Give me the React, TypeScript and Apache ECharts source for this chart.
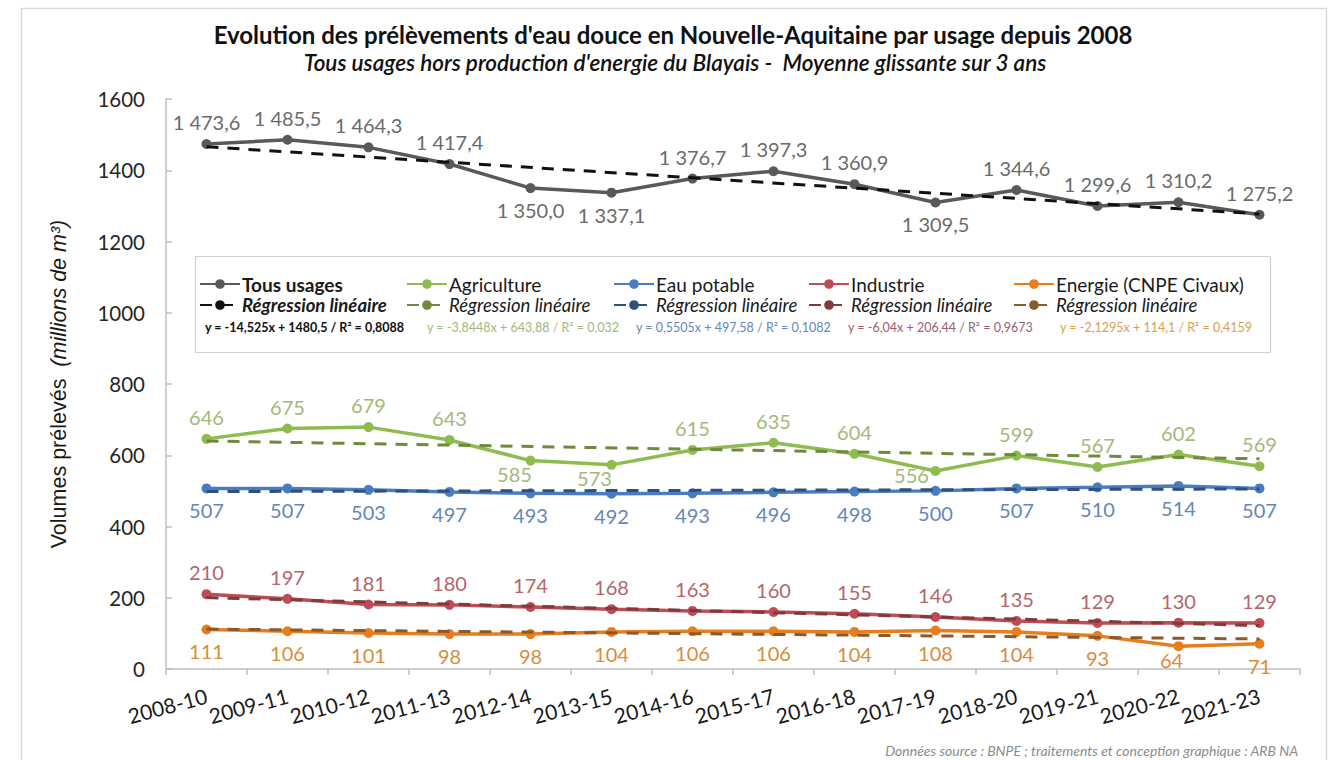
import React, { useEffect, useRef } from "react";
import * as echarts from "echarts";

const categories = [
  "2008-10", "2009-11", "2010-12", "2011-13", "2012-14", "2013-15", "2014-16",
  "2015-17", "2016-18", "2017-19", "2018-20", "2019-21", "2020-22", "2021-23",
];
const tousUsages = [1473.6, 1485.5, 1464.3, 1417.4, 1350.0, 1337.1, 1376.7, 1397.3, 1360.9, 1309.5, 1344.6, 1299.6, 1310.2, 1275.2];
const agriculture = [646, 675, 679, 643, 585, 573, 615, 635, 604, 556, 599, 567, 602, 569];
const eauPotable = [507, 507, 503, 497, 493, 492, 493, 496, 498, 500, 507, 510, 514, 507];
const industrie = [210, 197, 181, 180, 174, 168, 163, 160, 155, 146, 135, 129, 130, 129];
const energie = [111, 106, 101, 98, 98, 104, 106, 106, 104, 108, 104, 93, 64, 71];

// regression lines: value at first and last category (from the displayed equations)
const regTous = [1466.0, 1277.2];
const regAgri = [640.0, 590.0];
const regEau = [498.1, 505.3];
const regInd = [200.4, 121.9];
const regEnergie = [112.0, 84.3];

const equations = [
  "y = -14,525x + 1480,5 / R² = 0,8088",
  "y = -3,8448x + 643,88 / R² = 0,032",
  "y = 0,5505x + 497,58 / R² = 0,1082",
  "y = -6,04x + 206,44 / R² = 0,9673",
  "y = -2,1295x + 114,1 / R² = 0,4159",
];
const seriesNames = ["Tous usages", "Agriculture", "Eau potable", "Industrie", "Energie (CNPE Civaux)"];
const yTicks = [0, 200, 400, 600, 800, 1000, 1200, 1400, 1600];

const FONT = "Lato, 'Noto Sans', sans-serif";
const lineColors = ["#595959", "#8fbc4f", "#4a7dc0", "#be4b55", "#e87d1e"];
const labelColors = ["#6b6b6b", "#a3b87a", "#6387b8", "#b5646c", "#d98c3a"];
const regColors = ["#111111", "#6f8a3c", "#2f4f7f", "#7f3b3b", "#8a5a2b"];
const eqColors = ["#111111", "#a3b87a", "#6387b8", "#9a6070", "#d9a050"];

const legendCols = [199, 406, 613, 808, 1013];
const eqCols = [205, 427, 636, 848, 1060];

const fmtFr = (v: number, dec: number) => {
  const s = v.toFixed(dec);
  const [ip, dp] = s.split(".");
  const withSp = ip.replace(/\B(?=(\d{3})+(?!\d))/g, " ");
  return dp ? withSp + "," + dp : withSp;
};

const tousBelow = [4, 5, 9];
const agriShift: Record<number, number[]> = { 4: [-16, -9], 5: [-17, -9], 9: [-24, -18] };
const energieShift: Record<number, number[]> = { 12: [-7, -8] };

function regData(r: number[]) {
  return categories.map((_, i) => (i === 0 ? r[0] : i === categories.length - 1 ? r[1] : "-"));
}

export default function App() {
  const ref = useRef<HTMLDivElement>(null);
  useEffect(() => {
    if (!ref.current) return;
    const chart = echarts.init(ref.current, undefined, { renderer: "svg" });

    const baseLabel = (idx: number, pos: string) => ({
      show: true,
      position: pos,
      distance: 7,
      fontFamily: FONT,
      fontSize: 20,
      color: labelColors[idx],
      formatter: (p: any) => fmtFr(p.value, idx === 0 ? 1 : 0),
    });

    const mkSeries = (idx: number, values: number[], pos: string, custom: (v: number, i: number) => any) => ({
      name: seriesNames[idx],
      type: "line",
      data: values.map((v, i) => custom(v, i)),
      symbol: "circle",
      symbolSize: 10,
      lineStyle: { width: 3.5, color: lineColors[idx] },
      itemStyle: { color: lineColors[idx] },
      label: baseLabel(idx, pos),
      z: 2,
    });

    const regSeries = (idx: number, r: number[]) => ({
      name: "reg" + idx,
      type: "line",
      data: regData(r),
      connectNulls: true,
      symbol: "none",
      lineStyle: { width: 3, color: regColors[idx], type: [12, 9] },
      itemStyle: { color: regColors[idx] },
      z: 3,
      silent: true,
    });

    const series: any[] = [
      mkSeries(0, tousUsages, "top", (v, i) =>
        tousBelow.includes(i) ? { value: v, label: { position: "bottom" } } : v),
      mkSeries(1, agriculture, "top", (v, i) =>
        agriShift[i] ? { value: v, label: { position: "bottom", offset: agriShift[i] } } : v),
      mkSeries(2, eauPotable, "bottom", (v) => v),
      mkSeries(3, industrie, "top", (v) => v),
      mkSeries(4, energie, "bottom", (v, i) =>
        energieShift[i] ? { value: v, label: { offset: energieShift[i] } } : v),
      regSeries(0, regTous),
      regSeries(1, regAgri),
      regSeries(2, regEau),
      regSeries(3, regInd),
      regSeries(4, regEnergie),
    ];

    const legends: any[] = [];
    seriesNames.forEach((n, i) => {
      legends.push({
        data: [n],
        left: legendCols[i],
        top: 274,
        padding: 0,
        itemWidth: 40,
        itemHeight: 12,
        itemGap: 4,
        selectedMode: false,
        textStyle: {
          fontFamily: FONT,
          fontSize: 19,
          lineHeight: 20,
          color: "#1a1a1a",
          fontWeight: i === 0 ? "bold" : "normal",
          padding: [0, 0, 0, -3],
        },
      });
      legends.push({
        data: ["reg" + i],
        left: legendCols[i],
        top: 295,
        padding: 0,
        itemWidth: 40,
        itemHeight: 12,
        itemGap: 4,
        selectedMode: false,
        formatter: () => "Régression linéaire",
        textStyle: {
          fontFamily: FONT,
          fontSize: 18.5,
          lineHeight: 20,
          fontStyle: "italic",
          color: "#1a1a1a",
          fontWeight: i === 0 ? "bold" : "normal",
          padding: [0, 0, 0, -3],
        },
      });
    });

    const graphics: any[] = [
      {
        type: "rect",
        shape: { x: 21.5, y: 8.5, width: 1305, height: 780 },
        style: { fill: "none", stroke: "#d9d9d9", lineWidth: 1.5 },
        z: -10,
        silent: true,
      },
      {
        type: "rect",
        shape: { x: 195.5, y: 256.5, width: 1075, height: 96 },
        style: { fill: "#ffffff", stroke: "#d0d0d0", lineWidth: 1.2 },
        z: -5,
        silent: true,
      },
      {
        type: "text",
        x: 673,
        y: 34,
        style: {
          text: "Evolution des prélèvements d'eau douce en Nouvelle-Aquitaine par usage depuis 2008",
          fontFamily: FONT,
          fontSize: 24,
          fontWeight: "bold",
          fill: "#111111",
          textAlign: "center",
          textVerticalAlign: "middle",
        },
      },
      {
        type: "text",
        x: 675,
        y: 62,
        style: {
          text: "Tous usages hors production d'energie du Blayais -  Moyenne glissante sur 3 ans",
          fontFamily: FONT,
          fontSize: 22.5,
          fontWeight: 600,
          fontStyle: "italic",
          fill: "#111111",
          textAlign: "center",
          textVerticalAlign: "middle",
        },
      },
      {
        type: "text",
        x: 1298,
        y: 750,
        style: {
          text: "Données source : BNPE ; traitements et conception graphique : ARB NA",
          fontFamily: FONT,
          fontSize: 14,
          fontStyle: "italic",
          fill: "#8c8c8c",
          textAlign: "right",
          textVerticalAlign: "middle",
        },
      },
    ];
    equations.forEach((e, i) => {
      graphics.push({
        type: "text",
        x: eqCols[i],
        y: 327,
        style: {
          text: e,
          fontFamily: FONT,
          fontSize: 12.5,
          fontWeight: i === 0 ? "bold" : "normal",
          fill: eqColors[i],
          textAlign: "left",
          textVerticalAlign: "middle",
        },
      });
    });

    chart.setOption({
      animation: false,
      backgroundColor: "#ffffff",
      grid: { left: 166, right: 31, top: 99, bottom: 91, containLabel: false },
      legend: legends,
      xAxis: {
        type: "category",
        data: categories,
        boundaryGap: true,
        axisLine: { show: true, lineStyle: { color: "#bfbfbf", width: 1.5 } },
        axisTick: { show: true, length: 6, inside: false, lineStyle: { color: "#bfbfbf", width: 1.5 } },
        axisLabel: {
          rotate: 15,
          margin: 26,
          fontFamily: FONT,
          fontSize: 21,
          color: "#1a1a1a",
          interval: 0,
        },
        splitLine: { show: false },
      },
      yAxis: {
        type: "value",
        min: yTicks[0],
        max: yTicks[yTicks.length - 1],
        interval: 200,
        axisLine: { show: true, lineStyle: { color: "#bfbfbf", width: 1.5 } },
        axisTick: { show: true, inside: true, length: 6, lineStyle: { color: "#bfbfbf", width: 1.5 } },
        axisLabel: {
          margin: 21,
          fontFamily: FONT,
          fontSize: 20.5,
          color: "#262626",
          formatter: (v: number) => String(v),
        },
        splitLine: { show: false },
        name: "{a|Volumes prélevés  }{b|(millions de m³)}",
        nameLocation: "middle",
        nameRotate: 90,
        nameGap: 96,
        nameTextStyle: {
          rich: {
            a: { fontFamily: "'Liberation Sans', Arial, sans-serif", fontSize: 21.5, color: "#1a1a1a" },
            b: { fontFamily: "'Liberation Sans', Arial, sans-serif", fontSize: 21.5, fontStyle: "italic", color: "#1a1a1a" },
          },
        },
      },
      series,
      graphic: graphics,
    });
    return () => chart.dispose();
  }, []);

  return (
    <div
      ref={ref}
      style={{ position: "absolute", left: 0, top: 0, width: 1331, height: 760, background: "#fff" }}
    />
  );
}
